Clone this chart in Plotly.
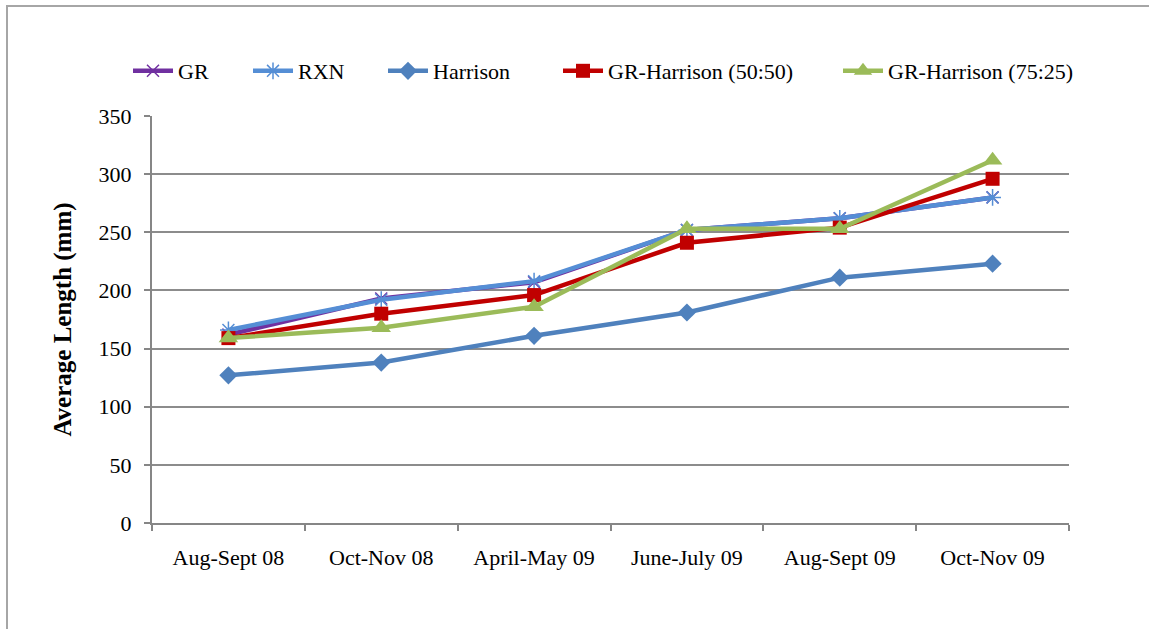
import plotly.graph_objects as go

categories = ["Aug-Sept 08", "Oct-Nov 08", "April-May 09", "June-July 09", "Aug-Sept 09", "Oct-Nov 09"]
gr = [162, 193, 207, 252, 262, 280]
rxn = [166, 192, 208, 252, 262, 280]
harrison = [127, 138, 161, 181, 211, 223]
gr_h_5050 = [159, 180, 196, 241, 254, 296]
gr_h_7525 = [159, 168, 186, 253, 253, 312]
y_ticks = [0, 50, 100, 150, 200, 250, 300, 350]

W, H = 1149, 629
L, R, T, B = 152, 80, 116, 106
PW, PH = W - L - R, H - T - B

def px_x(x):
    return (x - L) / PW

def px_y(y):
    return (H - B - y) / PH

FONT = "Liberation Serif"

series = [
    ("GR", gr, "#7030A0", dict(symbol="x-thin-open", size=12, line=dict(width=1.5, color="#7030A0")), "legend", 133),
    ("RXN", rxn, "#558ED5", dict(symbol="asterisk-open", size=14, line=dict(width=1.5, color="#558ED5")), "legend2", 253),
    ("Harrison", harrison, "#4F81BD", dict(symbol="diamond", size=14, color="#4F81BD"), "legend3", 388),
    ("GR-Harrison (50:50)", gr_h_5050, "#C00000", dict(symbol="square", size=14, color="#C00000"), "legend4", 563),
    ("GR-Harrison (75:25)", gr_h_7525, "#9BBB59", dict(symbol="triangle-up", size=17, color="#9BBB59"), "legend5", 843),
]

fig = go.Figure()
legends = {}
for name, vals, color, marker, leg, lx in series:
    fig.add_trace(go.Scatter(
        x=categories, y=vals, name=name, mode="lines+markers",
        line=dict(color=color, width=4.5), marker=marker, legend=leg,
    ))
    legends[leg] = dict(
        x=px_x(lx - 5), y=px_y(71), xanchor="left", yanchor="middle",
        orientation="h", itemwidth=40, bgcolor="rgba(0,0,0,0)",
        font=dict(family=FONT, size=22, color="black"),
    )

fig.update_layout(
    width=W, height=H,
    margin=dict(l=L, r=R, t=T, b=B, autoexpand=False),
    paper_bgcolor="white", plot_bgcolor="white",
    showlegend=True,
    font=dict(family=FONT, size=22, color="black"),
    **legends,
    shapes=[dict(type="rect", xref="paper", yref="paper",
                 x0=px_x(7), x1=px_x(1250), y0=px_y(700), y1=px_y(6),
                 line=dict(color="#A6A6A6", width=2), layer="below")],
)

fig.update_xaxes(
    type="category", range=[-0.5, 5.5], showgrid=False,
    showline=True, linecolor="#868686", linewidth=2,
    ticks="outside", tickson="boundaries", ticklen=6, tickcolor="#868686", tickwidth=2,
    tickfont=dict(family=FONT, size=22, color="black"), ticklabelstandoff=14,
)
fig.update_yaxes(
    range=[0, 350], tickvals=y_ticks, showgrid=True, gridcolor="#8C8C8C", gridwidth=1.5,
    showline=True, linecolor="#868686", linewidth=2, zeroline=False,
    ticks="outside", ticklen=6, tickcolor="#868686", tickwidth=2,
    tickfont=dict(family=FONT, size=22, color="black"), ticklabelstandoff=8,
    title=dict(text="<b>Average Length (mm)</b>", font=dict(family=FONT, size=25, color="black"), standoff=20),
)

fig.write_html("out.html", config={"displayModeBar": False},
               post_script="document.body.style.margin='0';document.body.style.overflow='hidden';")
